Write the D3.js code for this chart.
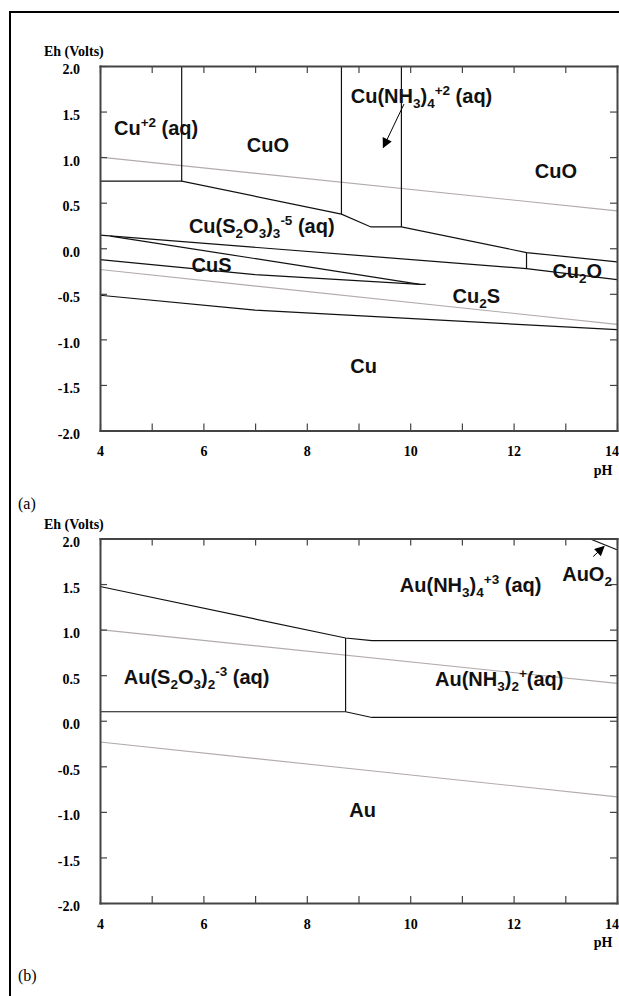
<!DOCTYPE html>
<html>
<head>
<meta charset="utf-8">
<script src="https://cdn.jsdelivr.net/npm/d3@7"></script>
<style>
  body { margin: 0; background: #fff; }
  svg { display: block; }
  .axis .tick text { font-family: "Liberation Serif", "Times New Roman", serif; font-weight: bold; font-size: 14px; fill: #000; }
  .axis .domain { stroke: #444; stroke-width: 2; stroke-linecap: square; }
  .axis .tick line { stroke: #444; stroke-width: 1.2; }
  .species { font-family: "Liberation Sans", Arial, sans-serif; font-weight: bold; font-size: 20px; fill: #111; }
  .serif { font-family: "Liberation Serif", "Times New Roman", serif; fill: #000; }
</style>
</head>
<body>
<div class="chart"></div>
<script>
// tick values for both diagrams
const phTicks = [4, 5, 6, 7, 8, 9, 10, 11, 12, 13, 14];
const ehTicks = [-2.0, -1.5, -1.0, -0.5, 0.0, 0.5, 1.0, 1.5, 2.0];

// stability limits of water (grey lines), [pH, Eh]
const waterLines = [
  [[4, 1.0], [14, 0.41]],
  [[4, -0.234], [14, -0.835]]
];

// (a) Cu - S2O3 - NH3 system, boundaries as polylines of [pH, Eh]
const cuBoundaries = [
  [[5.58, 2.0], [5.58, 0.736]],
  [[4, 0.736], [5.58, 0.736], [8.67, 0.375], [9.24, 0.234], [9.83, 0.234], [12.25, -0.047], [14, -0.15]],
  [[8.67, 2.0], [8.67, 0.375]],
  [[9.83, 2.0], [9.83, 0.234]],
  [[12.25, -0.047], [12.25, -0.223]],
  [[4, 0.143], [12.25, -0.223], [14, -0.344]],
  [[4.2, 0.134], [10.19, -0.396]],
  [[4, -0.124], [7, -0.289], [10.19, -0.396], [10.3, -0.396]],
  [[4, -0.516], [7, -0.68], [14, -0.893]]
];

// species labels: text (_{} subscript, ^{} superscript), pH, Eh of the baseline start
const cuLabels = [
  ["Cu^{+2} (aq)", 4.27, 1.242],
  ["CuO", 6.84, 1.058],
  ["Cu(NH_{3})_{4}^{+2} (aq)", 8.85, 1.59],
  ["CuO", 12.41, 0.766],
  ["Cu(S_{2}O_{3})_{3}^{-5} (aq)", 5.72, 0.168],
  ["CuS", 5.77, -0.26],
  ["Cu_{2}O", 12.75, -0.322],
  ["Cu_{2}S", 10.82, -0.601],
  ["Cu", 8.84, -1.37]
];
const cuArrow = [[9.88, 1.582], [9.48, 1.107]];

// (b) Au - S2O3 - NH3 system
const auBoundaries = [
  [[4, 1.473], [8.75, 0.908], [9.26, 0.879], [14, 0.879]],
  [[8.75, 0.908], [8.75, 0.099]],
  [[4, 0.099], [8.75, 0.099], [9.26, 0.036], [14, 0.036]],
  [[13.46, 2.0], [14, 1.876]]
];

const auLabels = [
  ["AuO_{2}", 12.94, 1.538],
  ["Au(NH_{3})_{4}^{+3} (aq)", 9.8, 1.41],
  ["Au(NH_{3})_{2}^{+}(aq)", 10.48, 0.385],
  ["Au(S_{2}O_{3})_{2}^{-3} (aq)", 4.46, 0.403],
  ["Au", 8.82, -1.055]
];
const auArrow = [[13.54, 1.802], [13.75, 1.912]];

const width = 619;
const height = 996;

const svg = d3.select('.chart')
  .append('svg')
  .attr('width', width)
  .attr('height', height);

// arrow head
svg.append('defs').append('marker')
  .attr('id', 'head')
  .attr('viewBox', '0 0 10 10')
  .attr('refX', 9)
  .attr('refY', 5)
  .attr('markerUnits', 'userSpaceOnUse')
  .attr('markerWidth', 12)
  .attr('markerHeight', 10)
  .attr('orient', 'auto')
  .append('path')
  .attr('d', 'M0,0 L10,5 L0,10 Z')
  .attr('fill', '#000');

// outer frame (runs off the page to the right and bottom)
svg.append('rect')
  .attr('x', 10)
  .attr('y', 12)
  .attr('width', 660)
  .attr('height', 1010)
  .attr('fill', 'none')
  .attr('stroke', '#000')
  .attr('stroke-width', 2);

const x = d3.scaleLinear()
  .domain([4, 14])
  .range([100, 617]);

//write text with sub and superscripts as tspans
function richText(sel, str) {
  const parts = str.match(/_\{[^}]*\}|\^\{[^}]*\}|[^_^]+/g);
  let shift = 0;
  parts.forEach(p => {
    let s = 0, t = p, small = false;
    if (p[0] === '_') { s = 5; t = p.slice(2, -1); small = true; }
    else if (p[0] === '^') { s = -8; t = p.slice(2, -1); small = true; }
    const ts = sel.append('tspan').attr('dy', s - shift).text(t);
    if (small) ts.style('font-size', '13.5px');
    shift = s;
  });
}

function panel(top, bottom, boundaries, labels, arrow, tag) {

  const y = d3.scaleLinear()
    .domain([-2, 2])
    .range([bottom, top]);

  const g = svg.append('g');

  const line = d3.line()
    .x(d => x(d[0]))
    .y(d => y(d[1]));

  g.selectAll('.water')
    .data(waterLines)
    .enter()
    .append('path')
    .attr('class', 'water')
    .attr('d', line)
    .attr('fill', 'none')
    .attr('stroke', '#b3abab')
    .attr('stroke-width', 1.1);

  g.selectAll('.bound')
    .data(boundaries)
    .enter()
    .append('path')
    .attr('class', 'bound')
    .attr('d', line)
    .attr('fill', 'none')
    .attr('stroke', '#111')
    .attr('stroke-width', 1.2);

  g.append('line')
    .attr('x1', x(arrow[0][0]))
    .attr('y1', y(arrow[0][1]))
    .attr('x2', x(arrow[1][0]))
    .attr('y2', y(arrow[1][1]))
    .attr('stroke', '#000')
    .attr('stroke-width', 1)
    .attr('marker-end', 'url(#head)');

  labels.forEach(l => {
    const t = g.append('text')
      .attr('class', 'species')
      .attr('x', x(l[1]))
      .attr('y', y(l[2]));
    richText(t, l[0]);
  });

  // axes, ticks pointing inward
  g.append('g')
    .attr('class', 'axis')
    .attr('transform', `translate(${x(4)},0)`)
    .call(d3.axisLeft(y).tickValues(ehTicks).tickSize(-7).tickSizeOuter(0)
      .tickPadding(20).tickFormat(d => d.toFixed(1)))
    .selectAll('text')
    .attr('dy', '0.57em');

  g.append('g')
    .attr('class', 'axis')
    .attr('transform', `translate(${x(14)},0)`)
    .call(d3.axisRight(y).tickValues(ehTicks).tickSize(-7).tickSizeOuter(0).tickFormat(''));

  g.append('g')
    .attr('class', 'axis')
    .attr('transform', `translate(0,${top})`)
    .call(d3.axisTop(x).tickValues(phTicks).tickSize(-7).tickSizeOuter(0).tickFormat(''));

  const xAxis = g.append('g')
    .attr('class', 'axis')
    .attr('transform', `translate(0,${bottom})`)
    .call(d3.axisBottom(x).tickValues(phTicks).tickSize(-7).tickSizeOuter(0)
      .tickPadding(16).tickFormat(d => d % 2 === 0 ? d : ''));

  // last pH label sits at the page edge, keep it inside
  xAxis.selectAll('.tick text')
    .filter(d => d === 14)
    .attr('text-anchor', 'end')
    .attr('dx', 1.5);

  g.append('text')
    .attr('class', 'serif')
    .attr('x', 44)
    .attr('y', top - 10)
    .style('font-weight', 'bold')
    .style('font-size', '14px')
    .text('Eh (Volts)');

  g.append('text')
    .attr('class', 'serif')
    .attr('x', 603)
    .attr('y', bottom + 44)
    .style('font-weight', 'bold')
    .style('font-size', '14px')
    .style('text-anchor', 'middle')
    .text('pH');

  g.append('text')
    .attr('class', 'serif')
    .attr('x', 18)
    .attr('y', bottom + 78)
    .style('font-size', '16px')
    .text(tag);
}

panel(66, 430.5, cuBoundaries, cuLabels, cuArrow, '(a)');
panel(538.5, 903, auBoundaries, auLabels, auArrow, '(b)');
</script>
</body>
</html>
